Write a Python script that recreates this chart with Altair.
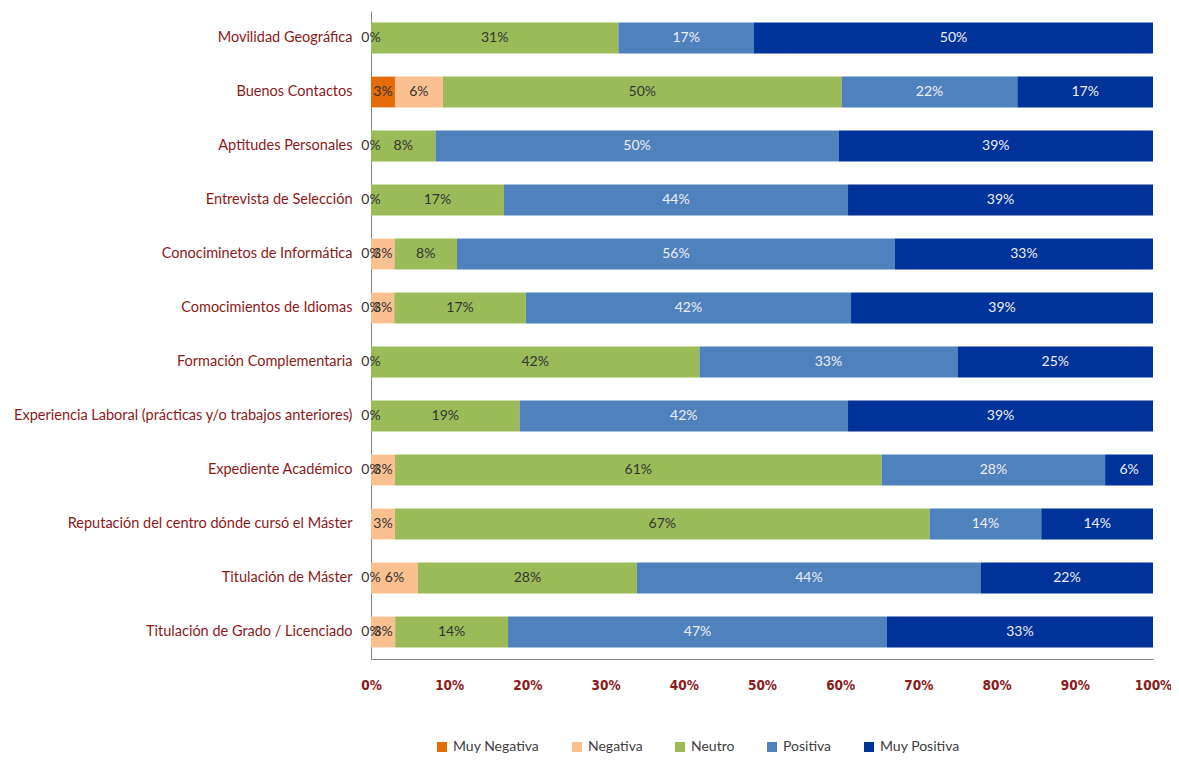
import altair as alt
import pandas as pd

cats = [
    "Movilidad Geográfica",
    "Buenos Contactos",
    "Aptitudes Personales",
    "Entrevista de Selección",
    "Conociminetos de Informática",
    "Comocimientos de Idiomas",
    "Formación Complementaria",
    "Experiencia Laboral (prácticas y/o trabajos anteriores)",
    "Expediente Académico",
    "Reputación del centro dónde cursó el Máster",
    "Titulación de Máster",
    "Titulación de Grado / Licenciado",
]
series = ["Muy Negativa", "Negativa", "Neutro", "Positiva", "Muy Positiva"]
colors = ["#E46C0A", "#FAC090", "#9BBB59", "#4F81BD", "#00339A"]

muy_negativa = [0, 3, 0, 0, 0, 0, 0, 0, 0, None, 0, 0]
negativa = [None, 6, None, None, 3, 3, None, None, 3, 3, 6, 3]
neutro = [31, 50, 8, 17, 8, 17, 42, 19, 61, 67, 28, 14]
positiva = [17, 22, 50, 44, 56, 42, 33, 42, 28, 14, 44, 47]
muy_positiva = [50, 17, 39, 39, 33, 39, 25, 39, 6, 14, 22, 33]

values = [muy_negativa, negativa, neutro, positiva, muy_positiva]
rows = []
for si, (s, vals) in enumerate(zip(series, values)):
    for c, v in zip(cats, vals):
        rows.append({
            "cat": c,
            "serie": s,
            "ord": si,
            "value": 0 if v is None else v,
            "label": "" if v is None else f"{v}%",
        })
df = pd.DataFrame(rows)

red = "#8B1A1A"

base = alt.Chart(df).transform_stack(
    stack="value",
    groupby=["cat"],
    as_=["v0", "v1"],
    offset="normalize",
    sort=[alt.SortField("ord", order="ascending")],
).transform_calculate(mid="(datum.v0 + datum.v1) / 2")

yenc = alt.Y(
    "cat:N",
    sort=cats,
    scale=alt.Scale(paddingInner=0.43, paddingOuter=0.215),
    axis=alt.Axis(
        title=None, ticks=False, domainColor="#868686", domainWidth=1,
        labelFont="Lato", labelFontSize=14.5, labelColor=red,
        labelPadding=19, labelLimit=500,
    ),
)

bars = base.mark_bar().encode(
    y=yenc,
    x=alt.X(
        "v0:Q",
        scale=alt.Scale(domain=[0, 1]),
        axis=alt.Axis(
            title=None, format=".0%", values=[i / 10 for i in range(11)],
            ticks=False, grid=False, domainColor="#868686", domainWidth=1,
            labelFont="DejaVu Sans Condensed, sans-serif",
            labelFontWeight="bold", labelFontSize=13.5, labelColor=red,
            labelPadding=19, labelFlush=False, labelOverlap=False,
        ),
    ),
    x2="v1:Q",
    color=alt.Color(
        "serie:N",
        scale=alt.Scale(domain=series, range=colors),
        sort=series,
        legend=alt.Legend(
            title=None, orient="none", legendX=64, legendY=729,
            direction="horizontal", symbolType="square", symbolSize=100,
            symbolStrokeWidth=0, labelFont="Lato", labelFontSize=14,
            labelColor="#404040", columnPadding=30, labelOffset=4, padding=0,
        ),
    ),
)

texts = base.mark_text(font="Lato", fontSize=14).encode(
    y=alt.Y("cat:N", sort=cats),
    x=alt.X("mid:Q"),
    text="label:N",
    color=alt.condition(
        "datum.serie == 'Positiva' || datum.serie == 'Muy Positiva'",
        alt.value("#EEEEF4"),
        alt.value("#333333"),
    ),
)

chart = alt.layer(bars, texts).properties(
    width=782,
    height=648,
    autosize=alt.AutoSizeParams(type="none"),
    padding={"left": 363, "top": 3, "right": 18, "bottom": 96},
).configure_view(stroke=None)

chart.save("out.html", embed_options={"renderer": "svg", "actions": False})
